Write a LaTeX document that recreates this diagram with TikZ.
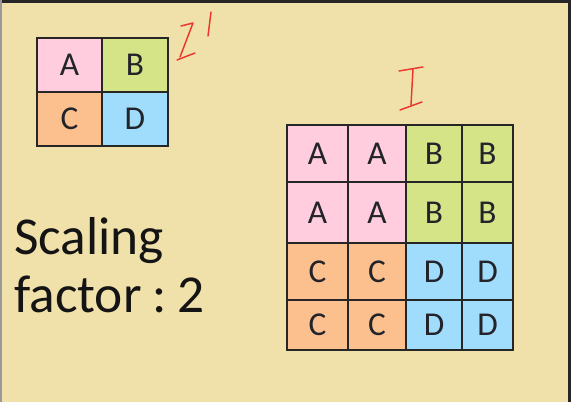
\documentclass[tikz,border=0pt]{standalone}
\usepackage{fontspec}
\setmainfont{Carlito}
\definecolor{bgc}{RGB}{240,225,170}
\definecolor{pinkc}{RGB}{255,205,222}
\definecolor{greenc}{RGB}{212,228,135}
\definecolor{orangec}{RGB}{252,192,142}
\definecolor{bluec}{RGB}{160,220,252}
\definecolor{inkc}{RGB}{35,35,42}
\definecolor{redc}{RGB}{235,55,45}
\tikzset{
  cellbox/.style={draw=black!85, line width=1.5pt, line join=miter},
  celltext/.style={text=inkc, font=\fontsize{25}{27}\selectfont, inner sep=0pt},
  smalltext/.style={text=inkc, font=\fontsize{25}{27}\selectfont, inner sep=0pt},
  hand/.style={draw=redc, line width=1.1pt, line cap=round, line join=round},
  bigtext/.style={text=black!92, font=\fontsize{40}{44}\selectfont, inner sep=0pt, anchor=base west}
}
\begin{document}
\begin{tikzpicture}[x=0.75pt,y=-0.75pt]
\useasboundingbox (0,0) rectangle (571,402);
\fill[bgc] (0,0) rectangle (571,402);
\fill[black!85] (0,0) rectangle (571,3);
\fill[black!85] (568,0) rectangle (571,402);
\fill[black!40] (0,0) rectangle (1.5,402);
% small grid
\foreach \xa/\ya/\xb/\yb/\c/\t/\n in {
  37/38/102/92/pinkc/A/sa, 102/38/168/92/greenc/B/sb,
  37/92/102/146/orangec/C/sc, 102/92/168/146/bluec/D/sd}{
  \draw[cellbox, fill=\c] (\xa,\ya) rectangle node[smalltext] (\n) {\t} (\xb,\yb);
}
% big grid
\foreach \xa/\ya/\xb/\yb/\c/\t/\n in {
  287/125/348/182/pinkc/A/b11, 348/125/406/182/pinkc/A/b12, 406/125/462/182/greenc/B/b13, 462/125/513/182/greenc/B/b14,
  287/182/348/243/pinkc/A/b21, 348/182/406/243/pinkc/A/b22, 406/182/462/243/greenc/B/b23, 462/182/513/243/greenc/B/b24,
  287/243/348/300/orangec/C/b31, 348/243/406/300/orangec/C/b32, 406/243/462/300/bluec/D/b33, 462/243/513/300/bluec/D/b34,
  287/300/348/350/orangec/C/b41, 348/300/406/350/orangec/C/b42, 406/300/462/350/bluec/D/b43, 462/300/513/350/bluec/D/b44}{
  \draw[cellbox, fill=\c] (\xa,\ya) rectangle node[celltext] (\n) {\t} (\xb,\yb);
}
% handwritten I'
\draw[hand] (181,26) -- (193,23) -- (180,57);
\draw[hand] (177,60) -- (195,53);
\draw[hand] (211,12) -- (208,36);
% handwritten I
\draw[hand] (399,71) -- (423,67);
\draw[hand] (413,69) -- (411,105);
\draw[hand] (400,110) -- (422,102);
% text
\node[bigtext] (t1) at (14,255) {Scaling};
\node[bigtext] (t2) at (14,313) {factor\hspace{0.2em}:\hspace{0.2em}2};
\end{tikzpicture}
\end{document}
